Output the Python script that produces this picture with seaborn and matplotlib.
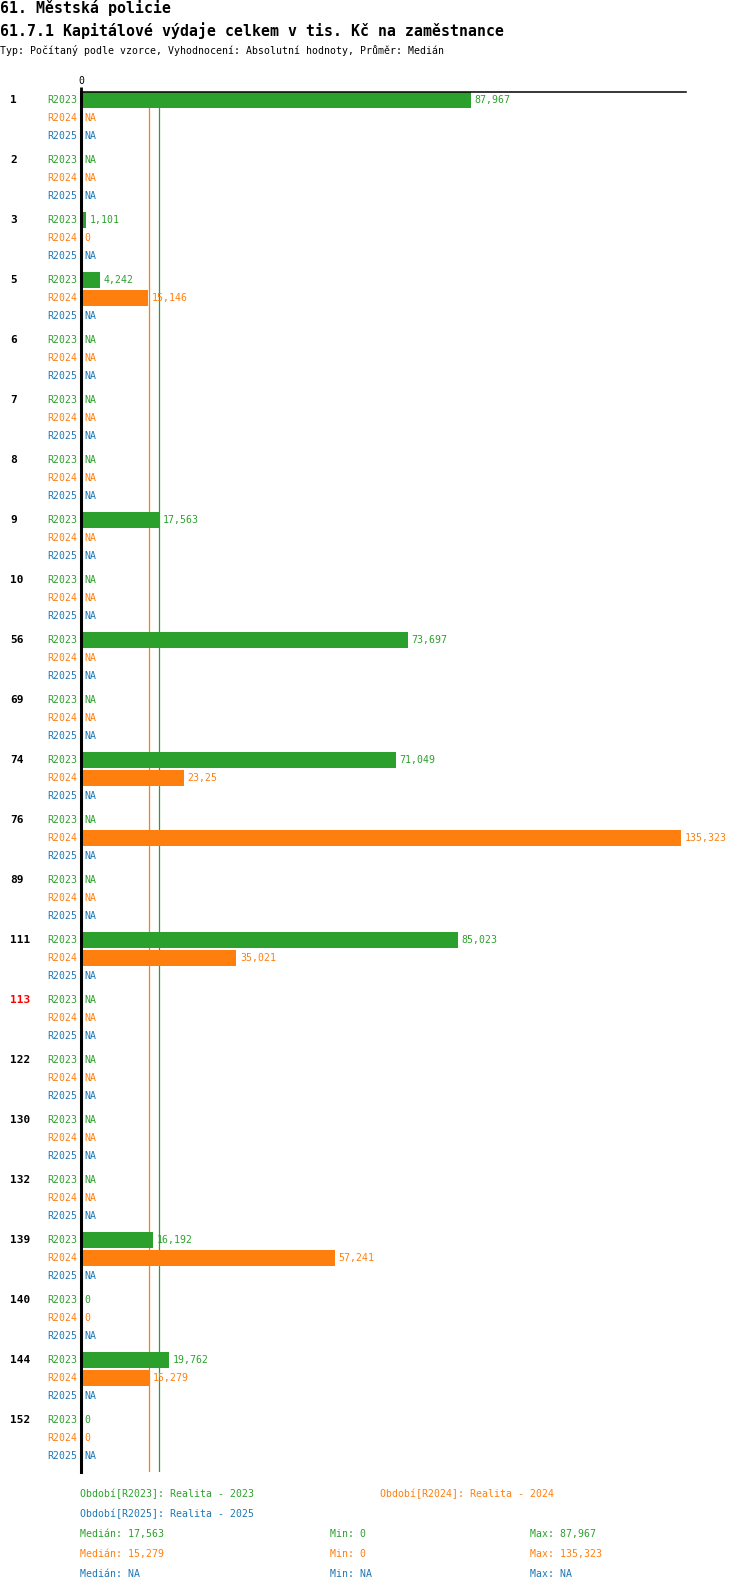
import numpy as np
import pandas as pd
import seaborn as sns
import matplotlib.pyplot as plt

# data
groups = ["1", "2", "3", "5", "6", "7", "8", "9", "10", "56", "69", "74", "76",
          "89", "111", "113", "122", "130", "132", "139", "140", "144", "152"]
periods = ["R2023", "R2024", "R2025"]
r2023 = [87967, None, 1101, 4242, None, None, None, 17563, None, 73697, None, 71049, None,
         None, 85023, None, None, None, None, 16192, 0, 19762, 0]
r2024 = [None, None, 0, 15146, None, None, None, None, None, None, None, 23250, 135323,
         None, 35021, None, None, None, None, 57241, 0, 15279, 0]
r2025 = [None] * len(groups)
label_override = {("74", "R2024"): "23,25"}
red_groups = ["113"]
median_2023 = 17563
median_2024 = 15279

pal = {"R2023": "#2ca02c", "R2024": "#ff7f0e", "R2025": "#1f77b4"}

rows = []
for per, vals in zip(periods, [r2023, r2024, r2025]):
    for g, v in zip(groups, vals):
        rows.append({"group": g, "period": per, "value": v})
df = pd.DataFrame(rows)
df["plot_value"] = df["value"].fillna(0)

sns.set_style("white")
plt.rcParams['font.family'] = ['DejaVu Sans Mono']
plt.rcParams['text.color'] = 'black'
plt.rcParams['xtick.color'] = 'black'

W, H = 750, 1592
fig = plt.figure(figsize=(W / 100, H / 100), dpi=100)
ax = fig.add_axes([81 / W, 1 - 1472 / H, (686 - 81) / W, (1472 - 92) / H])

sns.barplot(data=df, y="group", x="plot_value", hue="period", order=groups,
            hue_order=periods, palette=pal, width=0.9, gap=0.14, dodge=True,
            saturation=1, errorbar=None, legend=False, orient="h", linewidth=0, ax=ax)

ax.set_xlim(0, 136500)
ax.set_ylim(22.57, -0.43)
ax.set_xlabel("")
ax.set_ylabel("")
ax.set_yticks([])
ax.xaxis.tick_top()
ax.set_xticks([0])
ax.set_xticklabels(["0"], fontsize=7.1, color="black")
ax.tick_params(axis="x", length=3.5, width=2, pad=1, color="black")

for s in ["right", "bottom"]:
    ax.spines[s].set_visible(False)
ax.spines["left"].set_linewidth(2.2)
ax.spines["left"].set_color("black")
ax.spines["top"].set_linewidth(1.1)
ax.spines["top"].set_color("black")

ax.axvline(median_2024, color=pal["R2024"], lw=0.9, zorder=0)
ax.axvline(median_2023, color=pal["R2023"], lw=0.9, zorder=0)

# labels
for i, g in enumerate(groups):
    ax.annotate(g, xy=(0, i - 0.3), xycoords=("axes fraction", "data"),
                xytext=(-71 * 0.72, 0), textcoords="offset points",
                ha="left", va="center", fontsize=8, fontweight="bold",
                color="red" if g in red_groups else "black")
    for j, per in enumerate(periods):
        y = i + (j - 1) * 0.3
        v = df[(df.group == g) & (df.period == per)]["value"].iloc[0]
        ax.annotate(per, xy=(0, y), xytext=(-3.5 * 0.72, 0), textcoords="offset points",
                    ha="right", va="center", fontsize=7.1, color=pal[per],
                    annotation_clip=False)
        if pd.isna(v):
            txt, x = "NA", 0
        else:
            txt = label_override.get((g, per), "{:,}".format(int(v)))
            x = v
        ax.annotate(txt, xy=(x, y), xytext=(2.7, 0), textcoords="offset points",
                    ha="left", va="center", fontsize=7.1, color=pal[per],
                    annotation_clip=False)

# header
fig.text(0, 1 - 8.5 / H, "61. Městská policie", fontsize=10.7, fontweight="bold",
         ha="left", va="center", color="black")
fig.text(0, 1 - 30.5 / H, "61.7.1 Kapitálové výdaje celkem v tis. Kč na zaměstnance",
         fontsize=10.7, fontweight="bold", ha="left", va="center", color="black")
fig.text(0, 1 - 51 / H, "Typ: Počítaný podle vzorce, Vyhodnocení: Absolutní hodnoty, Průměr: Medián",
         fontsize=7.1, ha="left", va="center", color="black")

# footer
def ftext(x, y, s, c):
    fig.text(x / W, 1 - y / H, s, fontsize=7.1, color=c, ha="left", va="center")

ftext(80, 1494, "Období[R2023]: Realita - 2023", pal["R2023"])
ftext(380, 1494, "Období[R2024]: Realita - 2024", pal["R2024"])
ftext(80, 1514, "Období[R2025]: Realita - 2025", pal["R2025"])
stats = [("17,563", "0", "87,967"), ("15,279", "0", "135,323"), ("NA", "NA", "NA")]
for k, (per, (md, mn, mx)) in enumerate(zip(periods, stats)):
    y = 1534 + 20 * k
    ftext(80, y, "Medián: " + md, pal[per])
    ftext(330, y, "Min: " + mn, pal[per])
    ftext(530, y, "Max: " + mx, pal[per])

fig.savefig("out.png", dpi=100)
